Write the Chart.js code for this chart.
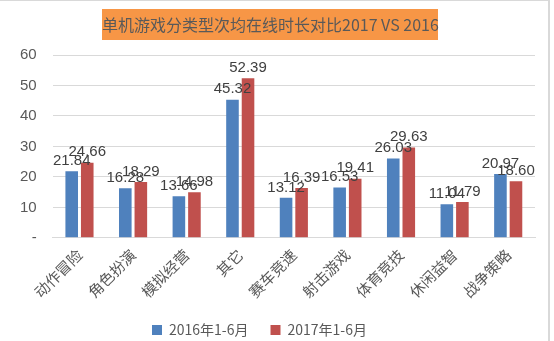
<!DOCTYPE html>
<html>
<head>
<meta charset="utf-8">
<script src="https://cdn.jsdelivr.net/npm/chart.js@4/dist/chart.umd.min.js"></script>
<style>
  html, body { margin: 0; padding: 0; background: #fff; }
  #wrap {
    position: relative; width: 550px; height: 341px;
    border-top: 1px solid #d9d9d9; border-right: 2px solid #d9d9d9;
    box-sizing: border-box;
  }
  #title {
    position: absolute; left: 102px; top: 8px; width: 336px; height: 31px;
    background: #f79646; color: #595959; z-index: 2;
    font: 16px "Noto Sans CJK SC", "Liberation Sans", sans-serif;
    line-height: 31px; text-align: center; white-space: nowrap;
  }
  #box { position: absolute; left: 0; top: 0; width: 548px; height: 340px; }
</style>
</head>
<body>
<div id="wrap">
  <div id="title">单机游戏分类型次均在线时长对比2017 VS 2016</div>
  <div id="box"><canvas id="out"></canvas></div>
</div>
<script>
// 分类
const categories = ["动作冒险", "角色扮演", "模拟经营", "其它", "赛车竞速", "射击游戏", "体育竞技", "休闲益智", "战争策略"];
// 次均在线时长
const values2016 = [21.84, 16.28, 13.66, 45.32, 13.12, 16.53, 26.03, 11.04, 20.97];
const values2017 = [24.66, 18.29, 14.98, 52.39, 16.39, 19.41, 29.63, 11.79, 18.60];
const seriesNames = ["2016年1-6月", "2017年1-6月"];
const yTicks = [0, 10, 20, 30, 40, 50, 60];

const cjk = '"Noto Sans CJK SC", sans-serif';
const num = '"Liberation Sans", sans-serif';

// labels on top of bars (no datalabels plugin here)
const barLabels = {
  id: "barLabels",
  afterDatasetsDraw(chart) {
    const ctx = chart.ctx;
    ctx.save();
    ctx.font = "15px " + num;
    ctx.fillStyle = "#404040";
    ctx.textAlign = "center";
    ctx.textBaseline = "bottom";
    chart.data.datasets.forEach((ds, i) => {
      chart.getDatasetMeta(i).data.forEach((bar, j) => {
        ctx.fillText(ds.data[j].toFixed(2), bar.x, bar.y - 3);
      });
    });
    ctx.restore();
  }
};

// legend sits a little left of centre in the original
const legendShift = {
  id: "legendShift",
  afterLayout(chart) {
    chart.legend.left -= 10;
    chart.legend.right -= 10;
  }
};

const chartConfig = {
  type: "bar",
  data: {
    labels: categories,
    datasets: [
      { label: seriesNames[0], data: values2016, backgroundColor: "#4f81bd" },
      { label: seriesNames[1], data: values2017, backgroundColor: "#c0504d" }
    ]
  },
  options: {
    responsive: true,
    maintainAspectRatio: false,
    animation: false,
    layout: { padding: { top: 54, right: 13, left: 4, bottom: -6 } },
    datasets: { bar: { categoryPercentage: 0.58, barPercentage: 0.81 } },
    plugins: {
      legend: {
        position: "bottom",
        labels: {
          boxWidth: 10, boxHeight: 10, padding: 22, color: "#595959",
          font: { size: 14, family: cjk }
        }
      },
      tooltip: { enabled: false }
    },
    scales: {
      x: {
        grid: { display: false },
        border: { color: "#d9d9d9" },
        ticks: {
          color: "#595959", maxRotation: 45, minRotation: 45, padding: 0,
          font: { size: 15, family: cjk }
        }
      },
      y: {
        min: 0, max: 60,
        afterBuildTicks(axis) { axis.ticks = yTicks.map(v => ({ value: v })); },
        grid: { color: "#d9d9d9", drawTicks: false },
        border: { display: false },
        ticks: {
          color: "#595959", padding: 16,
          font: { size: 15, family: num },
          callback: v => (v === 0 ? "-" : v)
        }
      }
    }
  },
  plugins: [barLabels, legendShift]
};

window.chart = new Chart(document.getElementById("out").getContext("2d"), chartConfig);
</script>
</body>
</html>
